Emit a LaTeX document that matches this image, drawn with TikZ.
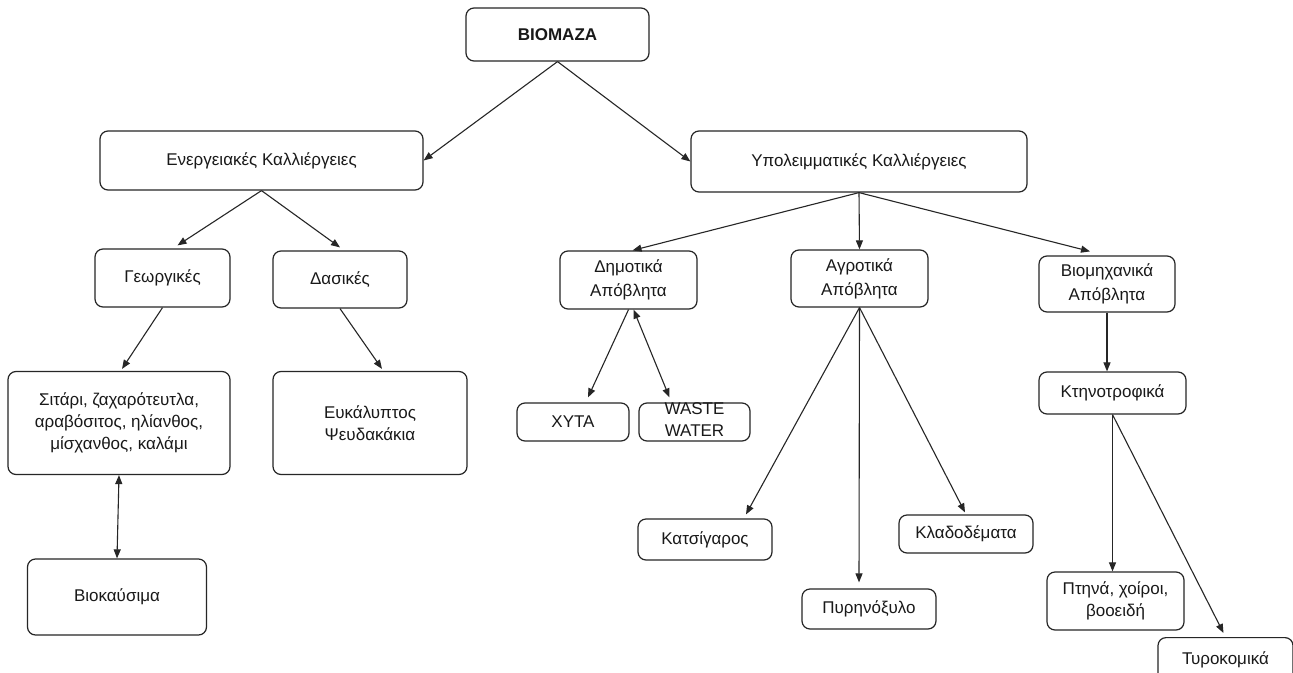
\documentclass[tikz,border=0pt]{standalone}
\usepackage{fontspec}
\setmainfont{Liberation Sans}
\usetikzlibrary{arrows.meta,calc}
\tikzset{
  bx/.style={draw=black!85, line width=1.2pt, rounded corners=8pt, align=center,
    inner sep=0pt, font=\fontsize{17}{22}\selectfont, text=black!90},
  arr/.style={line width=1.1pt, draw=black!85, -{Triangle[length=9pt,width=7pt]}},
  darr/.style={line width=1.1pt, draw=black!85, {Triangle[length=9pt,width=7pt]}-{Triangle[length=9pt,width=7pt]}}
}
\begin{document}
\begin{tikzpicture}[x=1pt,y=-1pt]
\useasboundingbox (0,0) rectangle (1293,672);
\fill[white] (0,0) rectangle (1293,672);
% nodes
\node[bx, minimum width=183pt, minimum height=53pt, font=\fontsize{17}{22}\selectfont\bfseries] (bio) at (557.5,34.5) {BIOMAZA};
\node[bx, minimum width=323pt, minimum height=59pt] (ener) at (261.5,160.5) {Ενεργειακές Καλλιέργειες};
\node[bx, minimum width=336pt, minimum height=61pt] (ypo) at (859,161.5) {Υπολειμματικές Καλλιέργειες};
\node[bx, minimum width=135pt, minimum height=58pt] (geo) at (162.5,278) {Γεωργικές};
\node[bx, minimum width=134pt, minimum height=57pt] (das) at (340,279.5) {Δασικές};
\node[bx, minimum width=222pt, minimum height=103pt] (sit) at (119,423) {Σιτάρι, ζαχαρότευτλα,\\αραβόσιτος, ηλίανθος,\\μίσχανθος, καλάμι};
\node[bx, minimum width=194pt, minimum height=103pt] (euk) at (370,423) {Ευκάλυπτος\\Ψευδακάκια};
\node[bx, minimum width=179pt, minimum height=76pt] (bk) at (117,597) {Βιοκαύσιμα};
\node[bx, minimum width=137pt, minimum height=58pt, font=\fontsize{17}{24}\selectfont] (dim) at (628.5,280) {Δημοτικά\\Απόβλητα};
\node[bx, minimum width=137pt, minimum height=57pt, font=\fontsize{17}{24}\selectfont] (agr) at (859.5,278.5) {Αγροτικά\\Απόβλητα};
\node[bx, minimum width=136pt, minimum height=56pt, font=\fontsize{17}{24}\selectfont] (viom) at (1107,284) {Βιομηχανικά\\Απόβλητα};
\node[bx, minimum width=112pt, minimum height=38pt] (xyta) at (573,422) {ΧΥΤΑ};
\node[bx, minimum width=111pt, minimum height=38pt] (waste) at (694.5,422) {};
\node[font=\fontsize{17}{22}\selectfont, align=center, inner sep=0pt, text=black!90] (wastetxt) at (694.5,420) {WASTE\\WATER};
\node[bx, minimum width=134pt, minimum height=41pt] (kats) at (705,539.5) {Κατσίγαρος};
\node[bx, minimum width=134pt, minimum height=38pt] (klad) at (966,534) {Κλαδοδέματα};
\node[bx, minimum width=134pt, minimum height=40pt] (pyr) at (869,609) {Πυρηνόξυλο};
\node[bx, minimum width=147pt, minimum height=42pt] (ktin) at (1112.5,393) {Κτηνοτροφικά};
\node[bx, minimum width=137pt, minimum height=58pt] (pt) at (1115.5,601) {Πτηνά, χοίροι,\\βοοειδή};
\node[bx, minimum width=135pt, minimum height=44pt, anchor=north] (tyro) at (1225.5,637) {Τυροκομικά};
% connectors
\draw[arr] (bio.south) -- (ener.east);
\draw[arr] (bio.south) -- (ypo.west);
\draw[arr] (ener.south) -- ([xshift=15pt,yshift=3pt]geo.north);
\draw[arr] (ener.south) -- ([yshift=3pt]das.north);
\draw[arr] (geo.south) -- ([xshift=3pt,yshift=2pt]sit.north);
\draw[arr] (das.south) -- ([xshift=12pt,yshift=2pt]euk.north);
\draw[darr] (sit.south) -- (bk.north);
\draw[arr] (ypo.south) -- ([xshift=4pt]dim.north);
\draw[arr] (ypo.south) -- (agr.north);
\draw[arr] (ypo.south) -- ([xshift=-17pt,yshift=4pt]viom.north);
\draw[arr] (dim.south) -- ([xshift=15pt,yshift=5pt]xyta.north);
\draw[darr] ([xshift=5pt]dim.south) -- ([xshift=-25pt,yshift=5pt]waste.north);
\draw[arr] (agr.south) -- ([xshift=41pt,yshift=4pt]kats.north);
\draw[arr] (agr.south) -- ([xshift=-10pt,yshift=6pt]pyr.north);
\draw[arr] (agr.south) -- ([xshift=-1pt,yshift=2pt]klad.north);
\draw[arr] (viom.south) -- (viom.south |- ktin.north);
\draw[arr] (ktin.south) -- (ktin.south |- pt.north);
\draw[arr] (ktin.south) -- ([xshift=-2pt,yshift=4pt]tyro.north);
\end{tikzpicture}
\end{document}
